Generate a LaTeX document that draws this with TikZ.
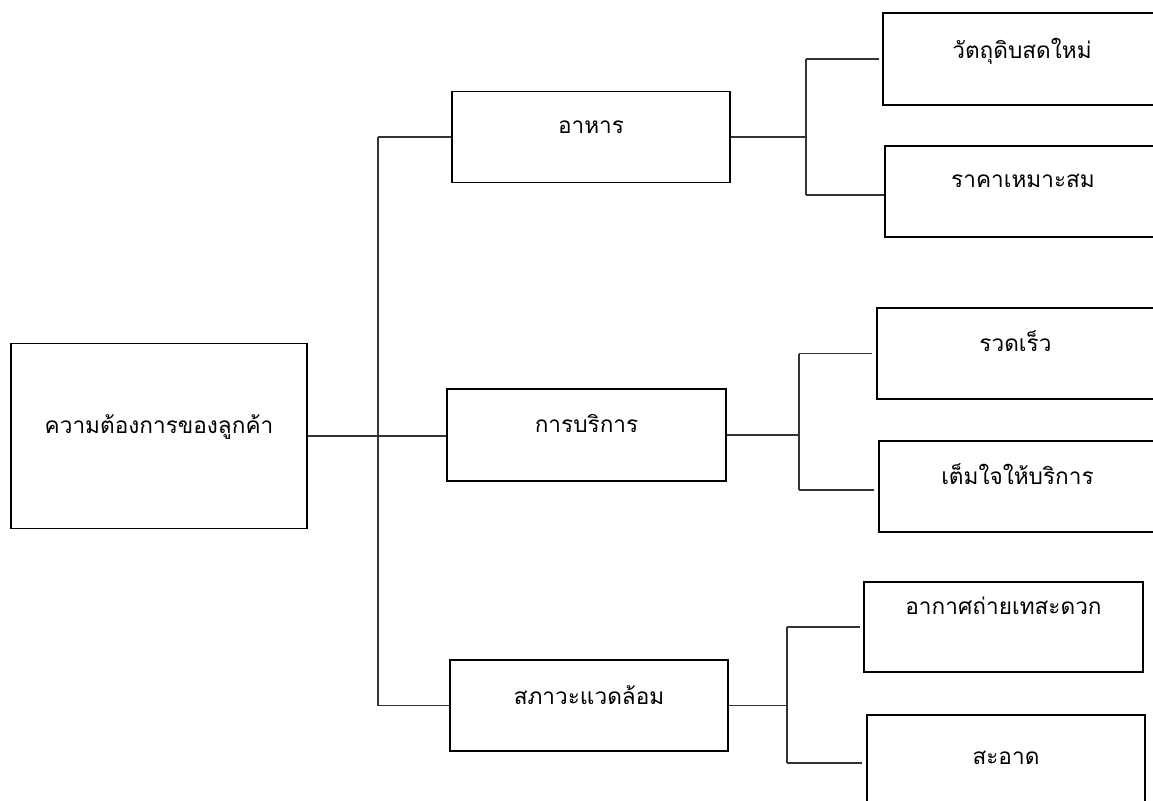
\documentclass[tikz,border=0pt]{standalone}
\usepackage{fontspec}
\newfontfamily\thaifont[Script=Thai]{Loma}
\begin{document}
\begin{tikzpicture}[x=1pt, y=-1pt,
  box/.style={draw=black, line width=1.8pt, inner sep=0pt},
  lbl/.style={anchor=base, inner sep=0pt, font=\thaifont\fontsize{22.6}{26}\selectfont},
  link/.style={draw=black!80, line width=1.3pt}]
\useasboundingbox (0,0) rectangle (1153,800);
\clip (0,0) rectangle (1153,800);

% boxes
\node[box, minimum width=296pt, minimum height=185pt] (root)    at (159,436)     {};
\node[box, minimum width=278pt, minimum height=91pt]  (food)    at (591,137)     {};
\node[box, minimum width=279pt, minimum height=92pt]  (serv)    at (586.5,435)   {};
\node[box, minimum width=278pt, minimum height=91pt]  (env)     at (589,705.5)   {};
\node[box, minimum width=278pt, minimum height=92pt]  (fresh)   at (1022,59)     {};
\node[box, minimum width=276pt, minimum height=91pt]  (price)   at (1023,191.5)  {};
\node[box, minimum width=277pt, minimum height=91pt]  (fast)    at (1015.5,353.5){};
\node[box, minimum width=277pt, minimum height=91pt]  (willing) at (1017.5,486.5){};
\node[box, minimum width=279pt, minimum height=90pt]  (air)     at (1003.5,627)  {};
\node[box, minimum width=278pt, minimum height=96pt]  (clean)   at (1006,763)    {};

% labels, set near the top of each box
\node[lbl] (rootT)    at ([yshift=-91pt]root.north)    {ความต้องการของลูกค้า};
\node[lbl] (foodT)    at ([yshift=-43pt]food.north)    {อาหาร};
\node[lbl] (servT)    at ([yshift=-44pt]serv.north)    {การบริการ};
\node[lbl] (envT)     at ([yshift=-45pt]env.north)     {สภาวะแวดล้อม};
\node[lbl] (freshT)   at ([yshift=-46pt]fresh.north)   {วัตถุดิบสดใหม่};
\node[lbl] (priceT)   at ([yshift=-42pt]price.north)   {ราคาเหมาะสม};
\node[lbl] (fastT)    at ([yshift=-44pt]fast.north)    {รวดเร็ว};
\node[lbl] (willingT) at ([yshift=-44pt]willing.north) {เต็มใจให้บริการ};
\node[lbl] (airT)     at ([yshift=-33pt]air.north)     {อากาศถ่ายเทสะดวก};
\node[lbl] (cleanT)   at ([yshift=-50pt]clean.north)   {สะอาด};

% junction points of the tree
\coordinate (j0) at (378,436);
\coordinate (j1) at (806,137);
\coordinate (j2) at (799,435);
\coordinate (j3) at (787,705.5);

% root to first level
\draw[link] (root.east) -- (root.east -| serv.west);
\draw[link] (j0 |- food.west) -- (j0 |- env.west);
\draw[link] (j0 |- food.west) -- (food.west);
\draw[link] (j0 |- env.west) -- (env.west);

% food branch
\draw[link] (food.east) -- (j1);
\draw[link] (j1 |- fresh.west) -- (j1 |- 0,195);
\draw[link, shorten >=3pt] (j1 |- fresh.west) -- (fresh.west);
\draw[link] (j1 |- 0,195) -- (price.west |- 0,195);

% service branch
\draw[link] (serv.east) -- (j2);
\draw[link] (j2 |- fast.west) -- (j2 |- 0,490);
\draw[link, shorten >=4pt] (j2 |- fast.west) -- (fast.west);
\draw[link, shorten >=4pt] (j2 |- 0,490) -- (willing.west |- 0,490);

% environment branch
\draw[link] (env.east) -- (j3);
\draw[link] (j3 |- air.west) -- (j3 |- clean.west);
\draw[link, shorten >=3pt] (j3 |- air.west) -- (air.west);
\draw[link, shorten >=4pt] (j3 |- clean.west) -- (clean.west);
\end{tikzpicture}
\end{document}
